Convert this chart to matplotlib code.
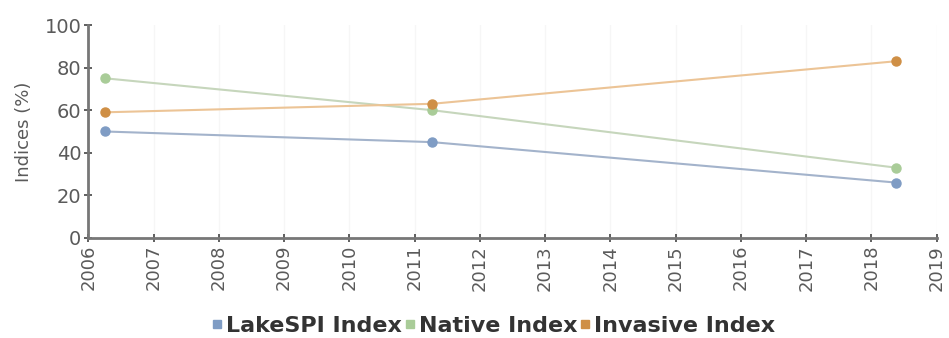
import matplotlib.pyplot as plt
from matplotlib.lines import Line2D

# survey dates as decimal years
years = [2006.25, 2011.27, 2018.38]
lakespi = [50, 45, 26]
native = [75, 60, 33]
invasive = [59, 63, 83]

SERIES = [
    ('LakeSPI Index', lakespi, '#a3b3cb', '#7f9cc4'),
    ('Native Index', native, '#c6d6bc', '#a9cc98'),
    ('Invasive Index', invasive, '#ecc496', '#cf8f45'),
]
AXIS_COLOR = '#777777'
TEXT_COLOR = '#5a5a5a'

fig = plt.figure(figsize=(9.49, 3.38), dpi=100)
ax = fig.add_axes([0.093, 0.296, 0.894, 0.630])

for label, vals, lc, mc in SERIES:
    ax.plot(years, vals, color=lc, linewidth=1.5, marker='o', markersize=6.5,
            markerfacecolor=mc, markeredgecolor=mc, zorder=3)

ax.set_xlim(2006, 2019)
ax.set_ylim(0, 100)
ax.set_xticks(range(2006, 2020))
ax.set_yticks(range(0, 101, 20))
ax.set_xticklabels([str(y) for y in range(2006, 2020)], rotation=90)

ax.grid(axis='x', color='#f6f6f6', linewidth=1)
ax.set_axisbelow(True)

for s in ['top', 'right']:
    ax.spines[s].set_visible(False)
for s in ['left', 'bottom']:
    ax.spines[s].set_color(AXIS_COLOR)
    ax.spines[s].set_linewidth(2)

ax.tick_params(axis='both', direction='inout', length=6, width=1.2,
               color='#444444', labelcolor=TEXT_COLOR, labelsize=13, pad=2)
ax.tick_params(axis='y', labelsize=14)

ax.set_ylabel('Indices (%)', fontsize=13, color=TEXT_COLOR, labelpad=8)

handles = [Line2D([], [], linestyle='none', marker='s', markersize=6,
                  markerfacecolor=mc, markeredgecolor=mc)
           for _, _, _, mc in SERIES]
labels = [s[0] for s in SERIES]
fig.legend(handles, labels, loc='center', bbox_to_anchor=(0.52, 0.035),
           ncol=3, frameon=False, handlelength=0.5, handletextpad=0.15,
           columnspacing=0.1, prop={'size': 16, 'weight': 'bold'},
           labelcolor='#333333')

fig.savefig('out.png', dpi=100)
